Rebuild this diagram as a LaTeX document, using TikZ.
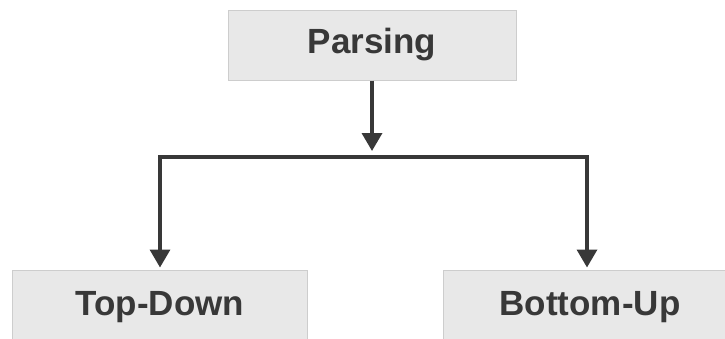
\documentclass[tikz,border=0pt]{standalone}
\usepackage{fontspec}
\setmainfont{Liberation Sans}
\usetikzlibrary{arrows.meta}
\definecolor{boxfill}{HTML}{E8E8E8}
\definecolor{boxline}{HTML}{CDCDCD}
\definecolor{ink}{HTML}{383838}
\begin{document}
\begin{tikzpicture}[x=1pt,y=-1pt,
  box/.style={draw=boxline,fill=boxfill,line width=1pt,text=ink,
    font=\fontsize{35}{40}\selectfont\bfseries,inner sep=0pt},
  arr/.style={draw=ink,line width=3.5pt,-{Triangle[length=18pt,width=20pt]}}]
\useasboundingbox (0,0) rectangle (725,338);
\clip (0,0) rectangle (725,338);

\node[box,minimum width=288,minimum height=70] (parse) at (372,45) {Parsing};
\node[box,minimum width=295,minimum height=74] (top) at (160,307) {Top-Down};
\node[box,minimum width=294,minimum height=74] (bottom) at (590,307) {Bottom-Up};

\coordinate (split) at (372,157);
\coordinate (right) at (587,157);

\draw[arr,shorten >=6pt] (parse.south) -- (split);
\draw[arr,shorten >=2pt] (split) -| (top.north);
\draw[arr,shorten >=2pt] (split) -- (right) -- (right |- bottom.north);

\end{tikzpicture}
\end{document}
